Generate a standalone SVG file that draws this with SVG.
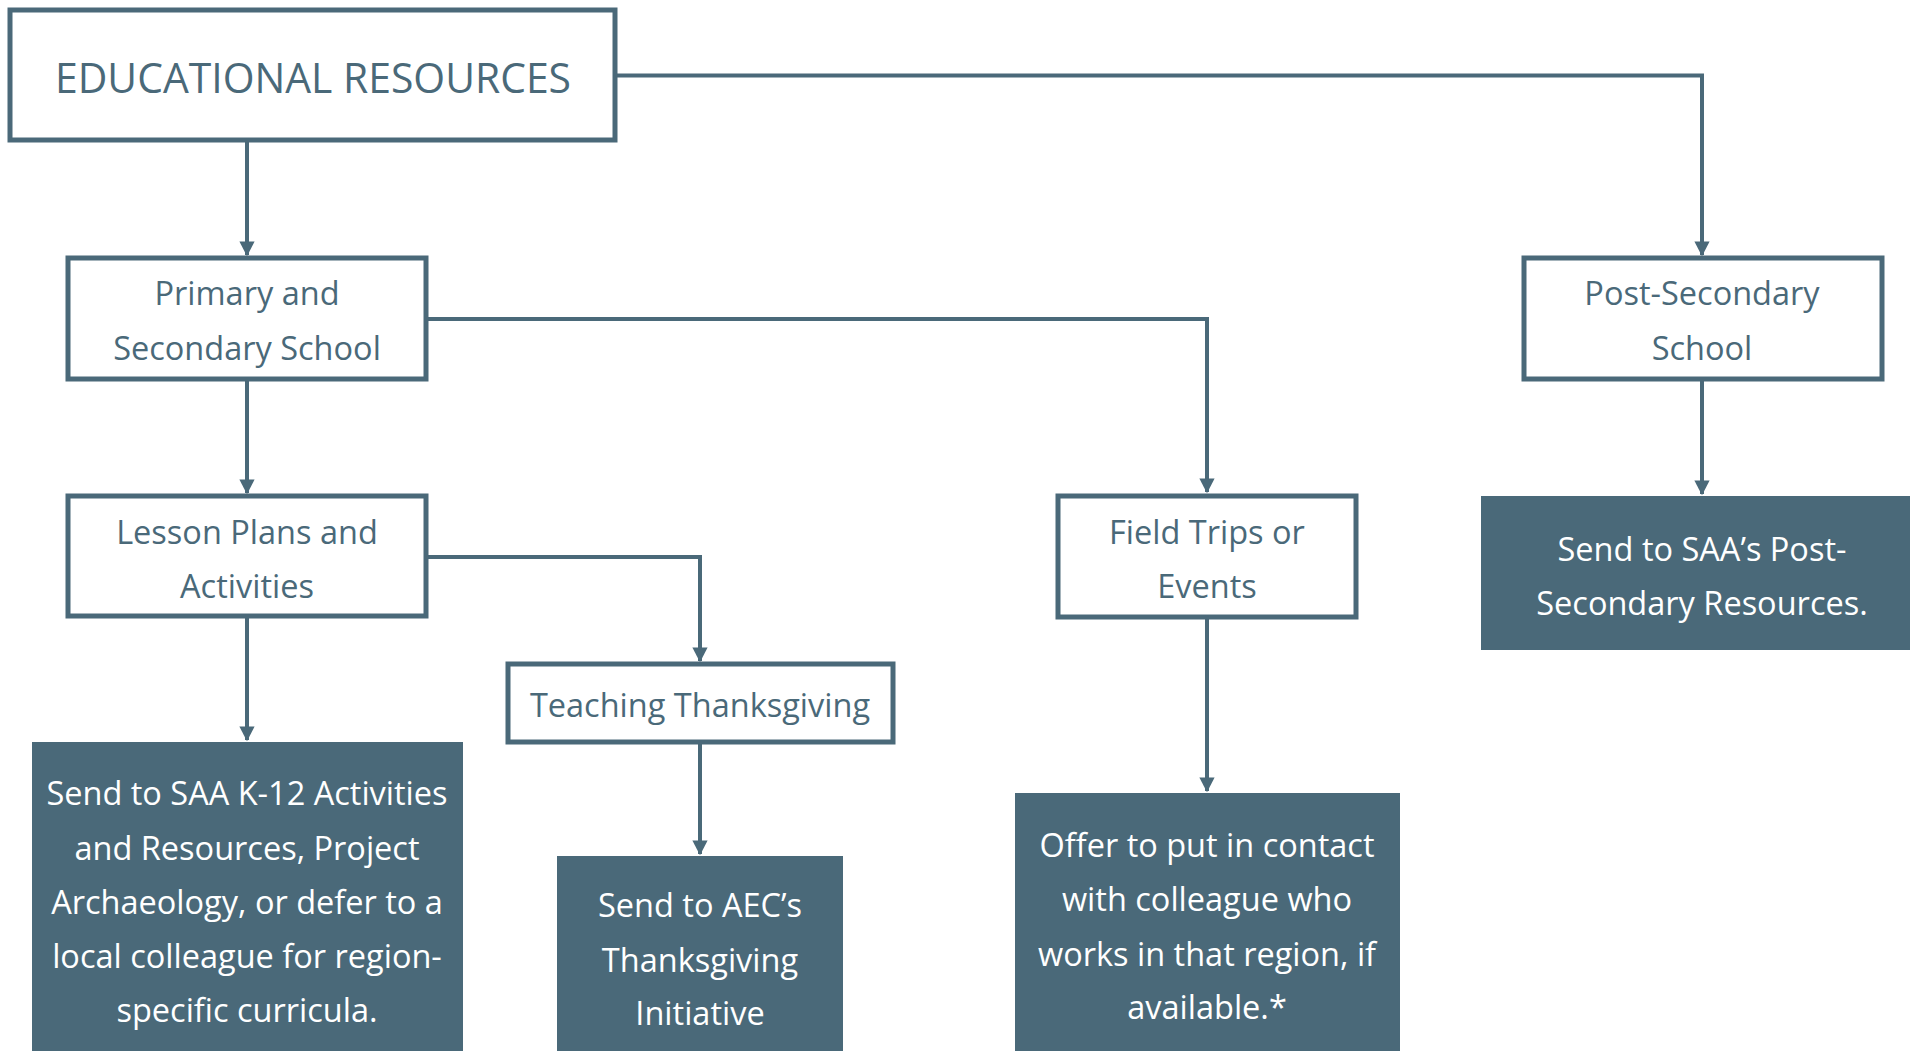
<svg xmlns="http://www.w3.org/2000/svg" width="1910" height="1051" viewBox="0 0 1910 1051">
<defs>
<style>
.box{fill:#ffffff;stroke:#4a6979;stroke-width:5}
.fbox{fill:#4a6979}
.t{font-family:"Open Sans","Noto Sans",sans-serif;font-size:32.5px;fill:#4a6979;text-anchor:middle}
.w{font-family:"Open Sans","Noto Sans",sans-serif;font-size:32.5px;fill:#ffffff;text-anchor:middle}
.title{font-family:"Open Sans","Noto Sans",sans-serif;font-size:42px;fill:#4a6979;text-anchor:middle}
.c{fill:none;stroke:#4a6979;stroke-width:4;marker-end:url(#ah)}
</style>
<marker id="ah" markerWidth="4.5" markerHeight="4.5" refX="3.4" refY="2" orient="auto" markerUnits="strokeWidth">
<path d="M0,0.1 L3.7,2 L0,3.9 Z" fill="#4a6979"/>
</marker>
</defs>
<rect width="1910" height="1051" fill="#ffffff"/>
<g id="connectors">
<path class="c" d="M247,140 V255"/>
<path class="c" d="M615,75.5 H1702 V255"/>
<path class="c" d="M247,379 V493"/>
<path class="c" d="M426,319 H1207 V492"/>
<path class="c" d="M426,557 H700 V661"/>
<path class="c" d="M247,617 V740"/>
<path class="c" d="M700,742 V854"/>
<path class="c" d="M1207,618 V791"/>
<path class="c" d="M1702,379 V494"/>
</g>
<g id="educational-resources">
<rect class="box" x="10" y="10" width="605" height="130"/>
<text class="title" x="313" y="93" textLength="516" lengthAdjust="spacingAndGlyphs">EDUCATIONAL RESOURCES</text>
</g>
<g id="primary-secondary">
<rect class="box" x="68" y="258" width="358" height="121"/>
<text class="t" x="247" y="305">Primary and</text>
<text class="t" x="247" y="360">Secondary School</text>
</g>
<g id="post-secondary">
<rect class="box" x="1524" y="258" width="358" height="121"/>
<text class="t" x="1702" y="305">Post-Secondary</text>
<text class="t" x="1702" y="360">School</text>
</g>
<g id="lesson-plans">
<rect class="box" x="68" y="496" width="358" height="120"/>
<text class="t" x="247" y="544">Lesson Plans and</text>
<text class="t" x="247" y="598">Activities</text>
</g>
<g id="field-trips">
<rect class="box" x="1058" y="496" width="298" height="121"/>
<text class="t" x="1207" y="544">Field Trips or</text>
<text class="t" x="1207" y="598">Events</text>
</g>
<g id="teaching-thanksgiving">
<rect class="box" x="508" y="664" width="385" height="78"/>
<text class="t" x="700" y="717">Teaching Thanksgiving</text>
</g>
<g id="post-secondary-resources">
<rect class="fbox" x="1481" y="496" width="429" height="154"/>
<text class="w" x="1702" y="561">Send to SAA’s Post-</text>
<text class="w" x="1702" y="615">Secondary Resources.</text>
</g>
<g id="k12-resources">
<rect class="fbox" x="32" y="742" width="431" height="309"/>
<text class="w" x="247" y="805">Send to SAA K-12 Activities</text>
<text class="w" x="247" y="860">and Resources, Project</text>
<text class="w" x="247" y="914">Archaeology, or defer to a</text>
<text class="w" x="247" y="968">local colleague for region-</text>
<text class="w" x="247" y="1022">specific curricula.</text>
</g>
<g id="aec-thanksgiving">
<rect class="fbox" x="557" y="856" width="286" height="195"/>
<text class="w" x="700" y="917">Send to AEC’s</text>
<text class="w" x="700" y="972">Thanksgiving</text>
<text class="w" x="700" y="1025">Initiative</text>
</g>
<g id="field-contact">
<rect class="fbox" x="1015" y="793" width="385" height="258"/>
<text class="w" x="1207" y="857">Offer to put in contact</text>
<text class="w" x="1207" y="911">with colleague who</text>
<text class="w" x="1207" y="966">works in that region, if</text>
<text class="w" x="1207" y="1019">available.*</text>
</g>
</svg>
